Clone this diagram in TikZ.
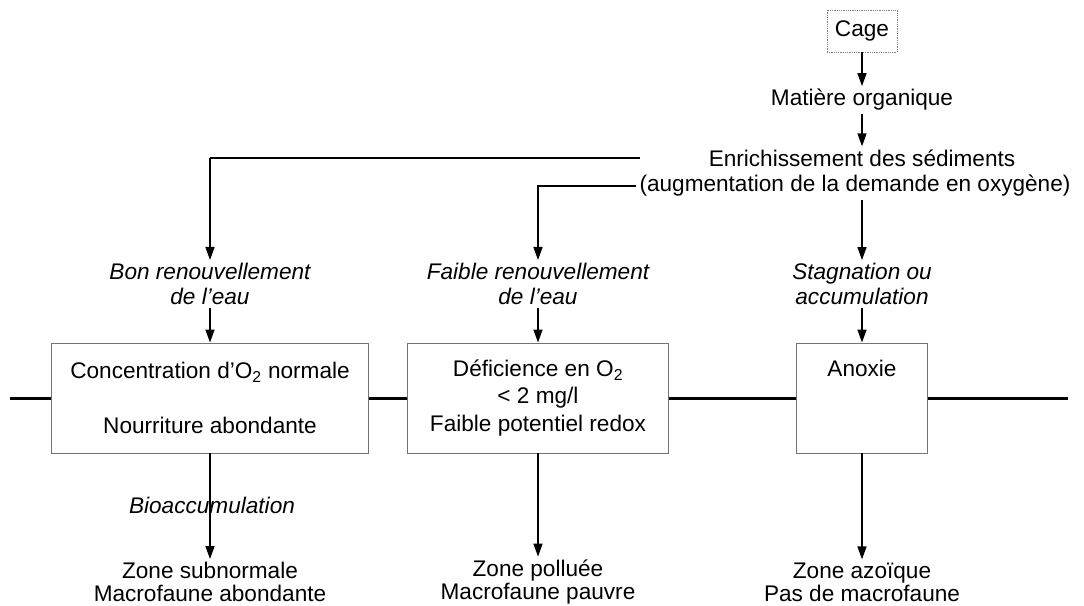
\documentclass[tikz,border=0pt]{standalone}
\usepackage{fontspec}
\setmainfont{Liberation Sans}
\usetikzlibrary{arrows.meta,positioning,calc}

\begin{document}
\begin{tikzpicture}[x=1pt,y=-1pt,
  txt/.style={font=\fontsize{22.6}{28}\selectfont,inner sep=3pt,align=center},
  cond/.style={txt,font=\fontsize{22.6}{25}\selectfont\itshape},
  zone/.style={txt,draw=black!55,line width=0.9pt,minimum height=110pt,inner sep=0pt,font=\fontsize{22.6}{27.5}\selectfont},
  arr/.style={-{Triangle[length=13pt,width=9pt]},line width=1.4pt},
  axe/.style={line width=3pt}]

  \useasboundingbox (0,0) rectangle (1084,605);

  % Source
  \node[txt,draw=black!50,line width=0.8pt,densely dotted,minimum width=70pt,minimum height=42pt] (cage) at (862,31) {Cage};
  \node[txt] (mat) at (862,100) {Matière organique};
  \node[txt] (enr) at (862,158) {Enrichissement des sédiments};
  \node[txt] (aug) at (855,186) {(augmentation de la demande en oxygène)};
  \draw[arr] (cage) -- (mat);
  \draw[arr] (mat) -- (enr);

  % Conditions
  \node[cond] (bon) at (210,284) {Bon renouvellement\\de l'eau};
  \node[cond] (faible) at (538,284) {Faible renouvellement\\de l'eau};
  \node[cond] (stag) at (862,284) {Stagnation ou\\accumulation};
  \coordinate (t1) at (640,158);
  \draw[line width=1.4pt] (t1) -- (t1 -| bon.north);
  \draw[arr] (t1 -| bon.north) -- (bon.north);
  \draw[arr] (aug.west) -| (faible.north);
  \draw[arr] (aug.south -| stag.north) -- (stag.north);

  % Zones
  \node[zone,minimum width=317pt] (z1) at (210,398) {Concentration d'O\textsubscript{2} normale\\[27.5pt]Nourriture abondante};
  \node[zone,minimum width=261pt] (z2) at (538,398) {Déficience en O\textsubscript{2}\\< 2 mg/l\\Faible potentiel redox};
  \node[zone,minimum width=131pt] (z3) at (862,398) {Anoxie\\\mbox{}\\\vphantom{p}};
  \draw[arr] (bon) -- (z1);
  \draw[arr] (faible) -- (z2);
  \draw[arr] (stag) -- (z3);

  \coordinate (g) at (10,398);
  \coordinate (d) at (1068,398);
  \draw[axe] (g) -- (z1);
  \draw[axe] (z1) -- (z2);
  \draw[axe] (z2) -- (z3);
  \draw[axe] (z3) -- (d);

  % Resultats
  \node[txt,font=\fontsize{22.6}{23}\selectfont] (r1) at (210,582) {Zone subnormale\\Macrofaune abondante};
  \node[txt,font=\fontsize{22.6}{23}\selectfont] (r2) at (538,582) {Zone polluée\\Macrofaune pauvre};
  \node[txt,font=\fontsize{22.6}{23}\selectfont] (r3) at (862,582) {Zone azoïque\\Pas de macrofaune};
  \node[cond] (bio) at (212,505) {Bioaccumulation};
  \draw[arr] (z1) -- (r1);
  \draw[arr] (z2) -- (r2);
  \draw[arr] (z3) -- (r3);
\end{tikzpicture}
\end{document}
